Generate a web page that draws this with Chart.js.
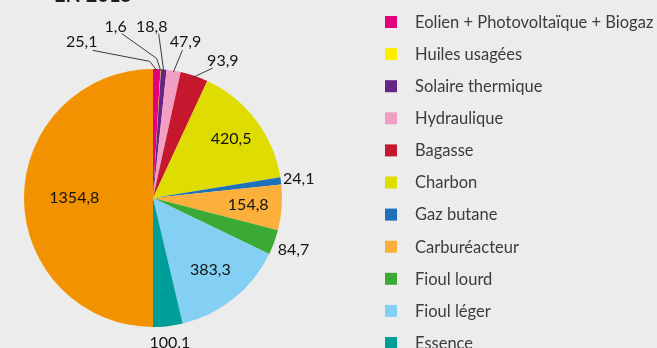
<!DOCTYPE html>
<html>
<head>
<meta charset="utf-8">
<script src="https://cdn.jsdelivr.net/npm/chart.js@4.4.0/dist/chart.umd.min.js"></script>
<style>
html, body { margin: 0; padding: 0; background: #ececec; }
canvas { display: block; }
</style>
</head>
<body>
<canvas id="energie" width="657" height="348"></canvas>
<script>
var titre = 'EN 2015';

var sources = [
    'Eolien + Photovoltaïque + Biogaz',
    'Huiles usagées',
    'Solaire thermique',
    'Hydraulique',
    'Bagasse',
    'Charbon',
    'Gaz butane',
    'Carburéacteur',
    'Fioul lourd',
    'Fioul léger',
    'Essence',
    'Gazole'
];
var valeurs = [25.1, 1.6, 18.8, 47.9, 93.9, 420.5, 24.1, 154.8, 84.7, 383.3, 100.1, 1354.8];
var couleurs = [
    '#e5007e', '#ffed00', '#662483', '#f29fc5', '#c5172d', '#dedc00',
    '#1d71b8', '#fbb03b', '#3aaa35', '#84d0f5', '#009e98', '#f39200'
];

// how far from the centre each value is written (share of the radius);
// null means the value hangs on a leader line instead
var distance = [null, null, null, null, null, 0.76, 1.14, 0.74, 1.16, 0.71, 1.13, 0.61];

// leader lines: bend, end and text centre, relative to the slice edge
var traits = {
    0: {coude: [-7, -9], fin: [-64, -20], texte: [-75, -29]},
    1: {coude: [-4, -12], fin: [-39, -37], texte: [-45, -44]},
    2: {coude: null, fin: [-5, -37], texte: [-12, -44]},
    3: {coude: null, fin: [9, -22], texte: [12, -30]},
    4: {coude: null, fin: [19, -9], texte: [29, -16]}
};

function virgule(v) {
    return v.toFixed(1).replace('.', ',');
}

var etiquettes = {
    id: 'etiquettes',
    afterDatasetsDraw: function(chart) {
        var ctx = chart.ctx;
        var arcs = chart.getDatasetMeta(0).data;
        ctx.save();
        ctx.font = '16px Lato';
        ctx.fillStyle = '#141414';
        ctx.strokeStyle = '#3c3c3b';
        ctx.lineWidth = 1;
        ctx.textAlign = 'center';
        ctx.textBaseline = 'middle';
        arcs.forEach(function(arc, i) {
            var p = arc.getProps(['x', 'y', 'startAngle', 'endAngle', 'outerRadius'], true);
            var a = (p.startAngle + p.endAngle) / 2;
            var r = p.outerRadius;
            var txt = virgule(valeurs[i]);
            if (distance[i] !== null) {
                ctx.fillText(txt, p.x + Math.cos(a) * r * distance[i], p.y + Math.sin(a) * r * distance[i]);
            } else {
                var t = traits[i];
                var ax = p.x + Math.cos(a) * r * 0.99;
                var ay = p.y + Math.sin(a) * r * 0.99;
                ctx.beginPath();
                ctx.moveTo(ax, ay);
                if (t.coude) ctx.lineTo(ax + t.coude[0], ay + t.coude[1]);
                ctx.lineTo(ax + t.fin[0], ay + t.fin[1]);
                ctx.stroke();
                ctx.fillText(txt, ax + t.texte[0], ay + t.texte[1]);
            }
        });

        // legend on the right
        ctx.textAlign = 'left';
        ctx.font = '16.5px Lato';
        sources.forEach(function(nom, i) {
            var y = 16 + i * 32.1;
            ctx.fillStyle = couleurs[i];
            ctx.fillRect(385, y, 12, 12);
            ctx.fillStyle = '#3c3c3b';
            ctx.fillText(nom, 415, y + 6.5);
        });

        // heading, cut by the top edge
        ctx.font = 'bold 20px Lato';
        ctx.fillStyle = '#1d1d1b';
        ctx.textBaseline = 'alphabetic';
        ctx.fillText(titre, 54, 2);
        ctx.restore();
    }
};

new Chart(document.getElementById('energie').getContext('2d'), {
    type: 'pie',
    data: {
        labels: sources,
        datasets: [{
            data: valeurs,
            backgroundColor: couleurs,
            borderWidth: 0,
            hoverOffset: 0
        }]
    },
    options: {
        responsive: false,
        devicePixelRatio: 1,
        animation: false,
        layout: {
            padding: {left: 24, right: 375, top: 69, bottom: 21}
        },
        plugins: {
            legend: {display: false},
            tooltip: {enabled: false}
        }
    },
    plugins: [etiquettes]
});
</script>
</body>
</html>
